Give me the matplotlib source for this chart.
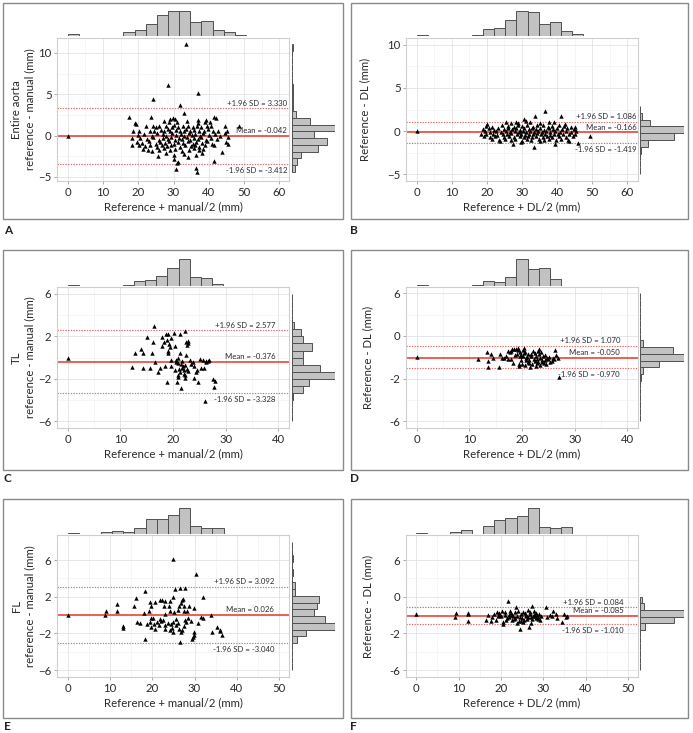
import numpy as np
import matplotlib
matplotlib.use("Agg")
import matplotlib.pyplot as plt

plt.rcParams['font.family'] = ['Lato', 'DejaVu Sans']

W, H = 693, 733

# ---------------- data ----------------
# A: entire aorta, reference vs manual
a_pts = [(0, 0), (33.4, 11.1), (28.4, 6.1), (37.0, 5.1), (24.1, 4.4), (31.8, 3.7), (33.1, 2.7),
         (17.3, 2.2), (23.7, 2.3), (29.0, 2.0), (29.8, 2.1), (30.4, 2.0), (36.9, 1.9), (41.6, 2.3), (42.0, 2.1), (39.3, 1.9),
         (19.0, 1.5), (19.3, 1.4), (27.2, 1.7), (28.6, 1.6), (30.9, 1.6), (33.8, 1.8), (36.8, 1.5), (38.9, 1.6), (40.2, 1.6),
         (22.1, 1.1), (24.3, 1.1), (25.1, 1.0), (26.0, 1.2), (27.8, 1.1), (29.5, 1.0), (30.2, 1.3), (31.4, 1.0), (32.6, 1.2),
         (34.0, 1.1), (35.4, 1.0), (36.6, 1.1), (37.8, 1.0), (39.4, 1.2), (40.7, 1.1), (44.7, 1.1), (48.5, 1.1),
         (18.5, 0.6), (20.2, 0.5), (23.3, 0.6), (24.6, 0.5), (26.4, 0.7), (27.3, 0.5), (28.3, 0.8), (29.1, 0.6), (30.6, 0.7),
         (31.8, 0.5), (32.9, 0.6), (33.5, 0.8), (34.6, 0.5), (35.8, 0.7), (37.2, 0.6), (38.6, 0.5), (39.8, 0.8), (41.2, 0.6),
         (42.5, 0.5), (45.2, 0.6),
         (19.8, 0.1), (21.6, 0.2), (23.8, 0.0), (25.3, 0.3), (26.9, 0.2), (28.0, 0.0), (29.6, 0.3), (30.8, 0.1), (32.2, 0.2),
         (33.1, 0.0), (34.3, 0.3), (35.2, 0.1), (36.2, 0.2), (37.6, 0.0), (38.4, 0.3), (40.0, 0.1), (41.8, 0.2), (43.3, 0.0),
         (44.6, 0.3),
         (18.1, -0.3), (20.6, -0.3), (22.5, -0.4), (24.2, -0.2), (25.8, -0.5), (27.0, -0.3), (28.5, -0.4), (29.2, -0.2),
         (30.3, -0.5), (31.5, -0.3), (32.5, -0.4), (33.7, -0.2), (34.8, -0.5), (35.9, -0.3), (36.9, -0.4), (37.9, -0.2),
         (39.1, -0.5), (40.5, -0.3), (42.2, -0.4), (45.4, -0.2),
         (19.6, -0.8), (21.2, -0.9), (23.1, -0.7), (24.9, -1.0), (26.3, -0.8), (27.6, -0.9), (28.8, -0.7), (30.0, -1.0),
         (31.2, -0.8), (32.8, -0.9), (34.1, -0.7), (35.5, -1.0), (36.4, -0.8), (38.2, -0.9), (39.6, -0.7), (40.9, -1.0),
         (44.9, -0.8), (45.5, -1.0),
         (18.1, -1.1), (20.1, -1.2), (22.0, -1.3), (23.4, -1.1), (25.3, -1.4), (26.7, -1.2), (28.1, -1.3), (29.4, -1.1),
         (31.7, -1.4), (33.3, -1.2), (34.9, -1.3), (36.1, -1.1), (37.3, -1.4), (38.8, -1.2), (41.5, -1.1),
         (21.3, -1.6), (22.8, -1.8), (23.9, -1.9), (25.9, -1.7), (27.2, -1.5), (28.9, -1.8), (30.5, -1.6), (32.4, -1.9),
         (34.4, -1.7), (35.7, -1.5), (37.1, -1.8), (38.3, -1.6), (43.7, -2.0),
         (25.6, -2.5), (27.9, -2.1), (30.2, -2.3), (33.0, -2.2), (36.3, -2.4), (38.0, -2.1), (34.2, -2.6),
         (30.2, -2.8), (31.0, -3.3), (30.8, -4.0), (36.5, -3.9), (36.6, -4.4), (41.4, -3.1), (31.3, -3.2)]
a_top_hist = [6, 0, 0, 0, 0, 12, 18, 36, 64, 78, 78, 45, 48, 20, 12, 3, 0, 0, 0]
a_right_hist = [8, 15, 28, 78, 105, 65, 128, 55, 13, 2, 2, 2, 2, 0, 0, 0, 0, 0, 2]
a_lines = [3.330, -0.042, -3.412]
a_labels = ['+1.96 SD = 3.330', 'Mean = -0.042', '-1.96 SD = -3.412']

# B: entire aorta, reference vs DL
b_pts = [(0, 0), (36.6, 2.3), (41.2, 1.7), (33.6, 1.8), (30.5, 1.4), (31.0, 1.2), (49.4, -0.6), (46.0, -1.4),
         (33.4, -1.8), (23.8, -1.2), (27.4, -1.5), (39.3, -1.5), (29.7, -1.3), (35.2, -1.2), (43.3, -1.2),
         (25.5, 1.0), (28.2, 1.05), (29.0, 0.9), (32.4, 1.1), (35.0, 0.95), (37.8, 1.1), (39.2, 1.0), (42.3, 0.85),
         (20.1, 0.8), (26.8, 0.9),
         (19.7, 0.6), (21.4, 0.5), (24.2, 0.7), (25.9, 0.55), (27.6, 0.5), (28.8, 0.7), (30.1, 0.6), (31.5, 0.75),
         (33.0, 0.5), (34.2, 0.65), (36.0, 0.7), (37.3, 0.45), (38.5, 0.6), (40.4, 0.7), (42.0, 0.55), (43.8, 0.5), (45.2, 0.45),
         (18.9, 0.2), (20.6, 0.3), (22.0, 0.15), (23.3, 0.3), (24.8, 0.2), (26.1, 0.35), (27.2, 0.2), (28.4, 0.3),
         (29.5, 0.15), (30.7, 0.3), (31.9, 0.25), (32.8, 0.35), (33.9, 0.2), (35.1, 0.3), (36.4, 0.15), (37.6, 0.3),
         (38.9, 0.2), (40.0, 0.35), (41.5, 0.2), (42.8, 0.3), (44.9, 0.2),
         (19.4, 0.0), (21.0, -0.1), (22.6, 0.05), (24.0, -0.1), (25.4, 0.0), (26.6, -0.15), (27.9, 0.0), (29.1, -0.1),
         (30.2, 0.05), (31.2, -0.1), (32.3, 0.0), (33.5, -0.15), (34.6, 0.0), (35.8, -0.1), (36.9, 0.05), (38.1, -0.1),
         (39.5, 0.0), (40.8, -0.1), (42.4, 0.0), (44.0, -0.15), (45.5, 0.0),
         (18.3, -0.3), (19.9, -0.4), (21.7, -0.3), (23.0, -0.45), (24.5, -0.3), (25.8, -0.4), (27.0, -0.25), (28.6, -0.4),
         (29.8, -0.3), (30.9, -0.45), (32.0, -0.3), (33.2, -0.4), (34.4, -0.25), (35.5, -0.4), (36.6, -0.3), (37.9, -0.45),
         (39.0, -0.3), (40.2, -0.4), (41.8, -0.3), (43.5, -0.4), (45.0, -0.3),
         (19.1, -0.6), (20.9, -0.7), (22.3, -0.6), (24.9, -0.75), (26.3, -0.6), (27.7, -0.7), (29.3, -0.6), (30.5, -0.75),
         (31.7, -0.6), (32.9, -0.7), (34.0, -0.6), (35.9, -0.75), (37.1, -0.6), (38.4, -0.7), (40.6, -0.6), (42.6, -0.7),
         (44.4, -0.6),
         (21.6, -0.9), (23.5, -1.0), (25.2, -0.9), (26.9, -1.05), (28.0, -0.9), (30.0, -1.1), (31.4, -0.9), (32.6, -1.0),
         (34.8, -0.9), (36.3, -1.0), (37.7, -0.9), (39.7, -1.05), (41.1, -0.9), (43.0, -1.0)]
b_top_hist = [4, 0, 0, 0, 0, 3, 20, 23, 47, 74, 70, 35, 41, 16, 7, 1, 0, 0, 0]
b_right_hist = [0, 0, 0, 2, 22, 100, 128, 30, 6, 1]
b_lines = [1.086, -0.166, -1.419]
b_labels = ['+1.96 SD = 1.086', 'Mean = -0.166', '-1.96 SD = -1.419']

# C: true lumen, reference vs manual
c_pts = [(0, 0), (16.4, 2.94), (22.2, 2.53), (20.1, 2.34), (19.1, 2.2), (18.6, 2.2), (21.3, 2.2), (17.9, 1.9),
         (15.0, 1.9), (16.2, 1.5), (18.9, 1.7), (18.3, 1.5), (19.6, 1.8), (22.5, 1.5), (22.9, 1.4), (22.6, 1.2),
         (22.8, 1.6), (20.3, 1.1), (18.0, 1.1), (19.4, 1.0), (14.0, 0.81), (12.7, 0.4), (14.3, 0.4), (16.1, 0.4),
         (19.1, 0.6), (19.0, 0.4), (21.3, 0.4), (22.4, 0.2), (21.0, 0.0), (19.3, 1.3), (26.9, -0.2), (19.6, -0.2),
         (20.6, -0.2), (23.2, -0.2), (25.7, -0.2), (26.3, -0.3), (26.7, -0.3), (16.5, -0.4), (12.2, -0.9), (14.3, -1.0),
         (15.7, -1.0), (17.6, -1.0), (18.4, -0.8), (20.9, -0.5), (21.5, -0.6), (21.9, -0.8), (22.3, -0.7), (21.7, -1.0),
         (22.6, -1.1), (21.2, -1.1), (23.5, -0.6), (24.0, -0.8), (25.3, -1.0), (25.9, -1.0), (24.6, -1.2), (21.3, -1.4),
         (22.0, -1.5), (22.3, -1.6), (20.9, -1.8), (23.9, -1.9), (27.5, -2.0), (28.0, -2.2), (20.7, -2.3), (18.8, -2.3),
         (24.8, -2.3), (21.5, -2.9), (27.7, -2.8), (26.0, -4.1), (19.7, -0.8), (20.4, -1.2), (21.0, -1.6), (22.8, -1.3),
         (24.4, -1.4), (22.3, -1.9), (21.8, -0.3), (22.1, -1.2), (20.5, -0.4), (17.2, -1.4), (26.2, -0.4), (25.1, -0.1),
         (23.7, -0.4)]
c_top_hist = [3, 0, 0, 0, 0, 3, 14, 17, 28, 52, 78, 27, 22, 7, 0, 0, 0, 0, 0]
c_right_hist = [0, 0, 0, 3, 33, 48, 125, 80, 33, 33, 57, 33, 26, 5, 0, 0, 0, 0]
c_lines = [2.577, -0.376, -3.328]
c_labels = ['+1.96 SD = 2.577', 'Mean = -0.376', '-1.96 SD = -3.328']

# D: true lumen, reference vs DL
d_pts = [(0, 0.0), (11.7, -0.15), (13.3, 0.45), (14.2, 0.35), (14.5, -0.05), (13.6, -0.35), (13.5, -0.95), (15.6, -0.95),
         (15.9, 0.3), (16.2, -0.1), (16.6, -0.1), (17.3, 0.6), (17.4, -0.2), (17.7, 0.5), (18.1, 0.75), (18.5, 0.8),
         (18.9, 0.75), (19.3, 0.9), (19.6, 0.5), (19.0, 0.3), (18.3, -0.5), (19.4, -0.6), (19.5, -0.85), (19.8, 0.2),
         (20.1, 0.1), (20.2, 0.7), (20.4, 0.4), (20.7, -0.3), (21.0, 0.0), (21.3, -0.5), (21.5, -0.95), (21.8, 0.3),
         (22.2, -0.2), (22.5, 0.4), (22.8, -0.5), (23.1, 0.6), (23.3, 0.75), (23.5, -0.1), (23.4, -0.7), (23.7, -0.4),
         (24.0, 0.1), (24.3, -0.3), (24.6, -0.6), (25.0, -0.2), (25.4, -0.4), (25.8, -0.1), (26.3, 0.65), (26.5, 0.2),
         (26.8, -0.1), (27.1, -1.8),
         (17.9, 0.55), (18.7, 0.2), (19.2, 0.65), (19.7, 0.1), (19.9, -0.3), (20.3, 0.85), (20.6, 0.5), (20.8, -0.1),
         (21.1, 0.35), (21.4, -0.25), (21.7, 0.15), (21.9, -0.6), (22.1, 0.55), (22.4, -0.35), (22.7, 0.1), (22.9, -0.15),
         (23.2, 0.3), (23.6, 0.45), (23.8, -0.25), (24.1, -0.5), (24.4, 0.2), (24.8, -0.05), (25.2, 0.05), (25.6, -0.35),
         (26.1, -0.15), (20.0, -0.6), (20.5, -0.75), (21.2, -0.45), (22.6, -0.8), (18.0, -0.2), (16.9, 0.1), (23.0, -0.45)]
d_top_hist = [3, 0, 0, 0, 0, 2, 14, 12, 27, 80, 50, 52, 22, 0, 0, 0, 0, 0, 0]
d_right_hist = [0, 0, 0, 0, 0, 0, 3, 10, 55, 128, 95, 10, 0, 0, 0, 0, 0, 0, 0]
d_lines = [1.070, -0.050, -0.970]
d_labels = ['+1.96 SD = 1.070', 'Mean = -0.050', '-1.96 SD = -0.970']

# E: false lumen, reference vs manual
e_pts = [(0, 0.03), (25.0, 6.16), (30.3, 4.52), (18.3, 2.66), (25.4, 2.84), (26.6, 3.0), (27.8, 3.0), (32.1, 2.0),
         (24.8, 2.0), (16.1, 1.9), (21.8, 1.6), (22.3, 1.6), (23.1, 1.5), (24.3, 1.5), (27.0, 1.6), (27.2, 1.8),
         (26.9, 1.3), (19.5, 1.4), (20.7, 1.4), (11.6, 1.2), (15.6, 1.0), (19.8, 1.0), (22.8, 1.0), (23.9, 1.0),
         (26.4, 1.0), (27.6, 1.0), (28.6, 1.0), (29.8, 0.8), (11.7, 0.5), (9.1, 0.5), (18.0, 0.2), (19.2, 0.5),
         (24.1, 0.5), (27.4, 0.5), (28.1, 0.4), (25.2, 0.3), (8.9, 0.0), (33.9, 0.0), (19.6, -0.3), (20.2, -0.3),
         (21.9, -0.4), (22.6, -0.5), (25.5, -0.4), (27.7, -0.5), (28.5, -0.3), (29.2, -0.6), (31.6, -0.2), (32.0, -0.3),
         (16.5, -0.8), (17.1, -0.9), (18.7, -1.0), (19.5, -0.8), (20.4, -1.0), (21.2, -0.8), (23.1, -1.1), (24.5, -1.0),
         (25.6, -1.1), (26.1, -0.9), (27.5, -1.2), (28.0, -0.8), (13.0, -1.2), (13.2, -1.4), (19.8, -1.3), (20.6, -1.5),
         (23.0, -1.5), (24.2, -1.6), (24.6, -1.4), (26.2, -1.5), (26.9, -1.8), (24.8, -1.8), (29.8, -1.8), (35.2, -1.3),
         (35.9, -1.6), (36.1, -1.7), (36.4, -2.2), (34.1, -1.8), (18.4, -2.6), (29.7, -2.4), (29.9, -2.2), (29.5, -2.6),
         (26.6, -2.9), (21.5, -1.1), (22.1, -0.6), (25.0, -0.7), (23.7, -0.9), (27.0, -1.6), (30.8, -0.9), (22.9, 0.1),
         (26.0, 0.6)]
e_top_hist = [3, 0, 1, 6, 10, 6, 18, 45, 45, 58, 78, 24, 17, 17, 0, 0, 0, 0, 0]
e_right_hist = [0, 0, 0, 0, 16, 42, 127, 96, 64, 74, 79, 10, 10, 0, 4, 0, 4, 0, 0]
e_lines = [3.092, 0.026, -3.040]
e_labels = ['+1.96 SD = 3.092', 'Mean = 0.026', '-1.96 SD = -3.040']

# F: false lumen, reference vs DL
f_pts = [(0, 0.07), (9.1, -0.19), (9.4, 0.2), (12.2, 0.1), (12.3, 0.2), (12.3, -0.6), (16.5, -0.5), (17.0, 0.0),
         (17.6, -0.6), (18.3, 0.1), (18.8, -0.5), (19.1, 0.3), (19.3, -0.1), (19.6, 0.2), (20.0, -0.1), (20.2, 0.4),
         (20.6, -1.0), (21.0, 0.0), (21.4, -0.3), (21.7, 1.49), (22.0, -0.2), (22.4, 0.2), (22.6, 0.0), (23.0, -0.4),
         (23.3, 0.3), (23.6, 0.94), (23.9, -0.1), (24.2, -0.6), (24.4, -1.5), (24.7, 0.1), (25.0, -0.3), (25.3, -0.8),
         (25.6, 0.2), (25.9, -0.1), (26.2, -0.4), (26.5, 0.6), (26.8, 0.1), (27.1, -0.2), (27.4, 1.0), (27.6, -0.1),
         (27.9, 0.4), (28.2, -0.3), (28.5, 0.0), (28.8, -0.2), (29.2, -0.5), (30.7, 0.87), (30.9, -0.2), (32.0, -0.1),
         (32.4, 0.4), (33.1, 0.1), (33.3, -0.3), (34.4, -0.8), (34.8, 0.1), (35.3, -0.2), (35.6, -0.1), (26.6, -1.3),
         (27.2, -0.9), (20.5, -0.7), (23.8, -0.9),
         (19.8, 0.05), (20.9, 0.3), (21.2, -0.5), (22.2, 0.5), (22.9, -0.15), (23.4, -0.3), (24.0, 0.4), (24.5, -0.25),
         (25.1, 0.35), (25.5, -0.5), (26.0, 0.05), (26.3, -0.2), (26.9, 0.3), (27.3, -0.45), (27.8, 0.0), (28.1, -0.1),
         (28.4, 0.25), (28.7, -0.4), (29.0, 0.1), (29.5, -0.1), (24.8, -0.65), (22.7, -0.55), (18.0, -0.2), (31.5, 0.0),
         (21.8, 0.0)]
f_top_hist = [4, 0, 0, 6, 12, 0, 23, 40, 47, 53, 77, 20, 17, 20, 0, 0, 0, 0, 0]
f_right_hist = [0, 0, 0, 0, 0, 0, 14, 100, 128, 13, 5]
f_lines = [0.84, -0.085, -1.010]
f_labels = ['+1.96 SD = 0.084', 'Mean = -0.085', '-1.96 SD = -1.010']

ylabel_manual = 'reference - manual (mm)'
ylabel_dl = 'Reference - DL (mm)'
xlabel_manual = 'Reference + manual/2 (mm)'
xlabel_dl = 'Reference + DL/2 (mm)'

# ---------------- layout (pixels of the 693x733 canvas) ----------------
COL_MAIN = [(57, 289), (406, 638)]
COL_RHIST = [(292, 335), (640, 684)]
COL_FRAME = [(3, 343), (351, 688)]
COL_LETTER = [4, 350]
ROW_MAIN = [(38, 181), (287, 428), (535, 677)]
ROW_THIST = [(11, 36), (259, 286), (508, 534)]
ROW_FRAME = [(3, 219), (250, 470), (499, 718)]
ROW_LETTER = [230, 478, 726]

panels = [
    dict(letter='A', col=0, row=0, pts=a_pts, top=a_top_hist, right=a_right_hist, lines=a_lines, labels=a_labels,
         xlim=(-3, 62.7), ylim=(-5.5, 11.8), yticks=[-5, 0, 5, 10], yticklabels=None, xticks=[0, 10, 20, 30, 40, 50, 60],
         hist_x=(0, 60), hist_y=(-4.4, 11.1), text_x=62.2,
         ylabel='Entire aorta\n' + ylabel_manual, xlabel=xlabel_manual),
    dict(letter='B', col=1, row=0, pts=b_pts, top=b_top_hist, right=b_right_hist, lines=b_lines, labels=b_labels,
         xlim=(-3, 63), ylim=(-5.8, 10.8), yticks=[-5, 0, 5, 10], yticklabels=None, xticks=[0, 10, 20, 30, 40, 50, 60],
         hist_x=(0, 60), hist_y=(-5, 2.9), text_x=62.7,
         ylabel=ylabel_dl, xlabel=xlabel_dl),
    dict(letter='C', col=0, row=1, pts=c_pts, top=c_top_hist, right=c_right_hist, lines=c_lines, labels=c_labels,
         xlim=(-2, 42), ylim=(-6.62, 6.64), yticks=[-6, -2, 2, 6], yticklabels=None, xticks=[0, 10, 20, 30, 40],
         hist_x=(0, 40), hist_y=(-6, 6), text_x=39.4,
         ylabel='TL\n' + ylabel_manual, xlabel=xlabel_manual),
    dict(letter='D', col=1, row=1, pts=d_pts, top=d_top_hist, right=d_right_hist, lines=d_lines, labels=d_labels,
         xlim=(-2, 42), ylim=(-6.62, 6.58), yticks=[-6, -2, 2, 6], yticklabels=['-6', '-2', '0', '6'],
         xticks=[0, 10, 20, 30, 40], hist_x=(0, 40), hist_y=(-6, 6), text_x=38.6,
         ylabel=ylabel_dl, xlabel=xlabel_dl),
    dict(letter='E', col=0, row=2, pts=e_pts, top=e_top_hist, right=e_right_hist, lines=e_lines, labels=e_labels,
         xlim=(-2.5, 52.3), ylim=(-6.76, 8.75), yticks=[-6, -2, 2, 6], yticklabels=None,
         xticks=[0, 10, 20, 30, 40, 50], hist_x=(0, 50), hist_y=(-6, 8), text_x=48.8,
         ylabel='FL\n' + ylabel_manual, xlabel=xlabel_manual),
    dict(letter='F', col=1, row=2, pts=f_pts, top=f_top_hist, right=f_right_hist, lines=f_lines, labels=f_labels,
         xlim=(-2.44, 52.4), ylim=(-6.76, 8.75), yticks=[-6, -2, 2, 6], yticklabels=['-6', '-2', '0', '6'],
         xticks=[0, 10, 20, 30, 40, 50], hist_x=(0, 50), hist_y=(-6, 2), text_x=49.0,
         ylabel=ylabel_dl, xlabel=xlabel_dl),
]

BAR_FACE = '#c2c2c2'
BAR_EDGE = '#505050'
RED = '#e5372f'
RED_DOT = '#e56b6b'


def box(x0, x1, y0, y1):
    return [x0 / W, 1 - y1 / H, (x1 - x0) / W, (y1 - y0) / H]


fig = plt.figure(figsize=(W / 100, H / 100), dpi=100)

for p in panels:
    c, r = p['col'], p['row']
    mx, my = COL_MAIN[c], ROW_MAIN[r]

    # outer frame and panel letter
    fx, fy = COL_FRAME[c], ROW_FRAME[r]
    fig.add_artist(plt.Rectangle((fx[0] / W, 1 - fy[1] / H), (fx[1] - fx[0]) / W, (fy[1] - fy[0]) / H,
                                 transform=fig.transFigure, fill=False, ec='#8a8a8a', lw=1.0))
    fig.text(COL_LETTER[c] / W, 1 - ROW_LETTER[r] / H, p['letter'], fontsize=8.5, fontweight='bold',
             ha='left', va='center', color='#222222')

    # main Bland-Altman panel
    ax = fig.add_axes(box(mx[0], mx[1], my[0], my[1]))
    x = [pt[0] for pt in p['pts']]
    y = [pt[1] for pt in p['pts']]
    ax.set_xlim(*p['xlim'])
    ax.set_ylim(*p['ylim'])
    ax.set_xticks(p['xticks'])
    ax.set_yticks(p['yticks'])
    if p['yticklabels'] is not None:
        ax.set_yticklabels(p['yticklabels'])
    ax.set_xticks(np.array(p['xticks'][:-1]) + np.diff(p['xticks']) / 2, minor=True)
    ax.set_yticks(np.array(p['yticks'][:-1]) + np.diff(p['yticks']) / 2, minor=True)
    ax.grid(which='major', color='#e3e3e3', lw=0.6)
    ax.grid(which='minor', color='#f1f1f1', lw=0.45)
    ax.set_axisbelow(True)
    for s in ax.spines.values():
        s.set_color('#cfcfcf')
        s.set_linewidth(0.8)
    ax.tick_params(which='major', length=2, width=0.5, color='#8a8a8a', labelsize=8.2, labelcolor='#2a2a2a', pad=2)
    ax.tick_params(which='minor', length=0)

    up, mean, low = p['lines']
    ax.axhline(mean, color=RED, lw=1.1, zorder=2)
    ax.axhline(up, color=RED_DOT, lw=0.8, ls=(0, (1.2, 1.2)), zorder=2)
    ax.axhline(low, color=RED_DOT, lw=0.8, ls=(0, (1.2, 1.2)), zorder=2)
    ax.scatter(x, y, marker='^', s=10, c='black', linewidths=0, zorder=4)

    for val, lab, dy in zip(p['lines'], p['labels'], [3.6, 3.8, -4.6]):
        ax.annotate(lab, xy=(p['text_x'], val), xytext=(0, dy), textcoords='offset points',
                    ha='right', va='center', fontsize=5.6, color='#2a2a2a', zorder=5)

    two_line = '\n' in p['ylabel']
    ax.set_xlabel(p['xlabel'], fontsize=8.2, color='#2a2a2a', labelpad=3)
    ax.set_ylabel(p['ylabel'], fontsize=8.2, color='#2a2a2a', labelpad=2 if two_line else 12,
                  linespacing=1.25)

    # top marginal histogram
    ty = ROW_THIST[r]
    axt = fig.add_axes(box(mx[0], mx[1], ty[0], ty[1]))
    nt = len(p['top'])
    edges = np.linspace(p['hist_x'][0], p['hist_x'][1], nt + 1)
    axt.bar(edges[:-1], p['top'], width=np.diff(edges), align='edge', color=BAR_FACE,
            edgecolor=BAR_EDGE, lw=0.7)
    axt.set_xlim(*p['xlim'])
    axt.set_ylim(0, max(p['top']))
    axt.axis('off')

    # right marginal histogram
    rx = COL_RHIST[c]
    axr = fig.add_axes(box(rx[0], rx[1], my[0], my[1]))
    nr = len(p['right'])
    yedges = np.linspace(p['hist_y'][0], p['hist_y'][1], nr + 1)
    axr.barh(yedges[:-1], p['right'], height=np.diff(yedges), align='edge', color=BAR_FACE,
             edgecolor=BAR_EDGE, lw=0.7)
    axr.set_ylim(*p['ylim'])
    axr.set_xlim(0, max(p['right']))
    axr.axis('off')

fig.savefig('out.png', dpi=100)
